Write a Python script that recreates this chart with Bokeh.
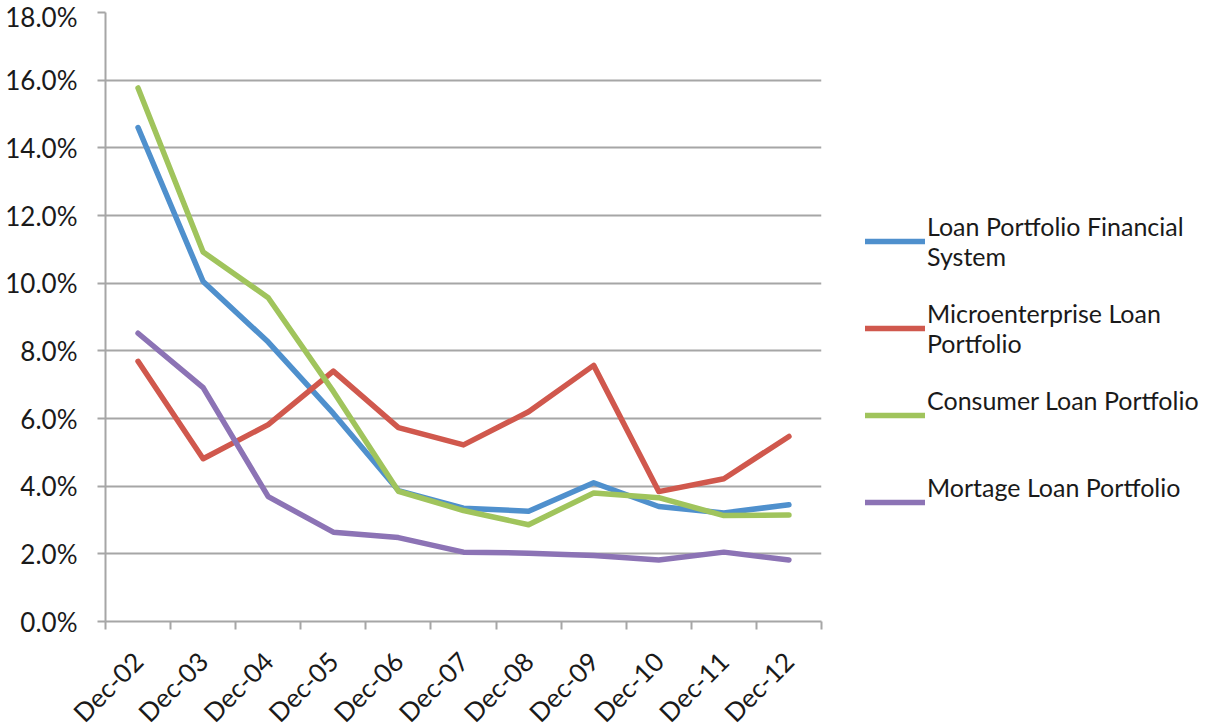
import math
from bokeh.plotting import figure
from bokeh.models import Legend, LegendItem, FixedTicker, PrintfTickFormatter, Range1d
from bokeh.embed import file_html
from bokeh.resources import INLINE

categories = ["Dec-02", "Dec-03", "Dec-04", "Dec-05", "Dec-06", "Dec-07",
              "Dec-08", "Dec-09", "Dec-10", "Dec-11", "Dec-12"]
loan_fin = [14.6, 10.05, 8.26, 6.15, 3.87, 3.35, 3.26, 4.10, 3.40, 3.21, 3.45]
micro = [7.69, 4.81, 5.82, 7.40, 5.73, 5.22, 6.20, 7.57, 3.84, 4.22, 5.47]
consumer = [15.77, 10.92, 9.57, 6.8, 3.85, 3.28, 2.86, 3.80, 3.66, 3.13, 3.15]
mortgage = [8.52, 6.91, 3.69, 2.64, 2.48, 2.05, 2.02, 1.95, 1.82, 2.05, 1.82]
series_names = ["Loan Portfolio Financial\nSystem", "Microenterprise Loan\nPortfolio",
                "Consumer Loan Portfolio\n ", "Mortage Loan Portfolio\n "]
series_colors = ["#4F90CD", "#D0584D", "#A0C45C", "#8C73B5"]
y_ticks = [0, 2, 4, 6, 8, 10, 12, 14, 16, 18]

FONT = "Lato"
TXT = "#1a1a1a"
GRID = "#A6A6A6"

xs = list(range(len(categories)))

p = figure(frame_width=716, frame_height=609,
           x_range=Range1d(-0.5, len(categories) - 0.5), y_range=Range1d(0, 18),
           output_backend="svg", toolbar_location=None,
           min_border_left=105, min_border_top=12, min_border_bottom=100, min_border_right=395)
p.outline_line_color = None
p.background_fill_color = "white"

series = [loan_fin, micro, consumer, mortgage]
renderers = []
for vals, col in zip(series, series_colors):
    r = p.line(xs, vals, line_color=col, line_width=5.5, line_join="round", line_cap="round")
    renderers.append(r)

# axes
p.xaxis.ticker = FixedTicker(ticks=xs, minor_ticks=[i - 0.5 for i in range(len(categories) + 1)])
p.xaxis.major_label_overrides = {i: c for i, c in enumerate(categories)}
p.xaxis.major_tick_out = 0
p.xaxis.major_tick_in = 0
p.xaxis.minor_tick_out = 8
p.xaxis.minor_tick_in = 0
p.xaxis.minor_tick_line_color = GRID
p.xaxis.minor_tick_line_width = 2
p.xaxis.axis_line_color = GRID
p.xaxis.axis_line_width = 2
p.xaxis.major_label_orientation = math.pi / 4
p.xaxis.major_label_standoff = 27

p.yaxis.ticker = FixedTicker(ticks=y_ticks)
p.yaxis.formatter = PrintfTickFormatter(format="%.1f%%")
p.yaxis.major_tick_out = 8
p.yaxis.major_tick_in = 0
p.yaxis.minor_tick_line_color = None
p.yaxis.major_tick_line_color = GRID
p.yaxis.major_tick_line_width = 2
p.yaxis.axis_line_color = GRID
p.yaxis.axis_line_width = 2
p.yaxis.major_label_standoff = 20

for ax in (p.xaxis, p.yaxis):
    ax.major_label_text_font = FONT
    ax.major_label_text_font_size = "26px"
    ax.major_label_text_color = TXT

p.xgrid.grid_line_color = None
p.ygrid.grid_line_color = GRID
p.ygrid.grid_line_width = 2

items = [LegendItem(label=n, renderers=[r]) for n, r in zip(series_names, renderers)]
legend = Legend(items=items, location=(44, 89), padding=0, margin=0,
                glyph_width=60, glyph_height=20, label_standoff=2, spacing=27,
                label_text_font=FONT, label_text_font_size="25px", label_text_color=TXT,
                border_line_color=None, background_fill_alpha=0)
p.add_layout(legend, "right")

open("out.html", "w").write(file_html(p, INLINE))
